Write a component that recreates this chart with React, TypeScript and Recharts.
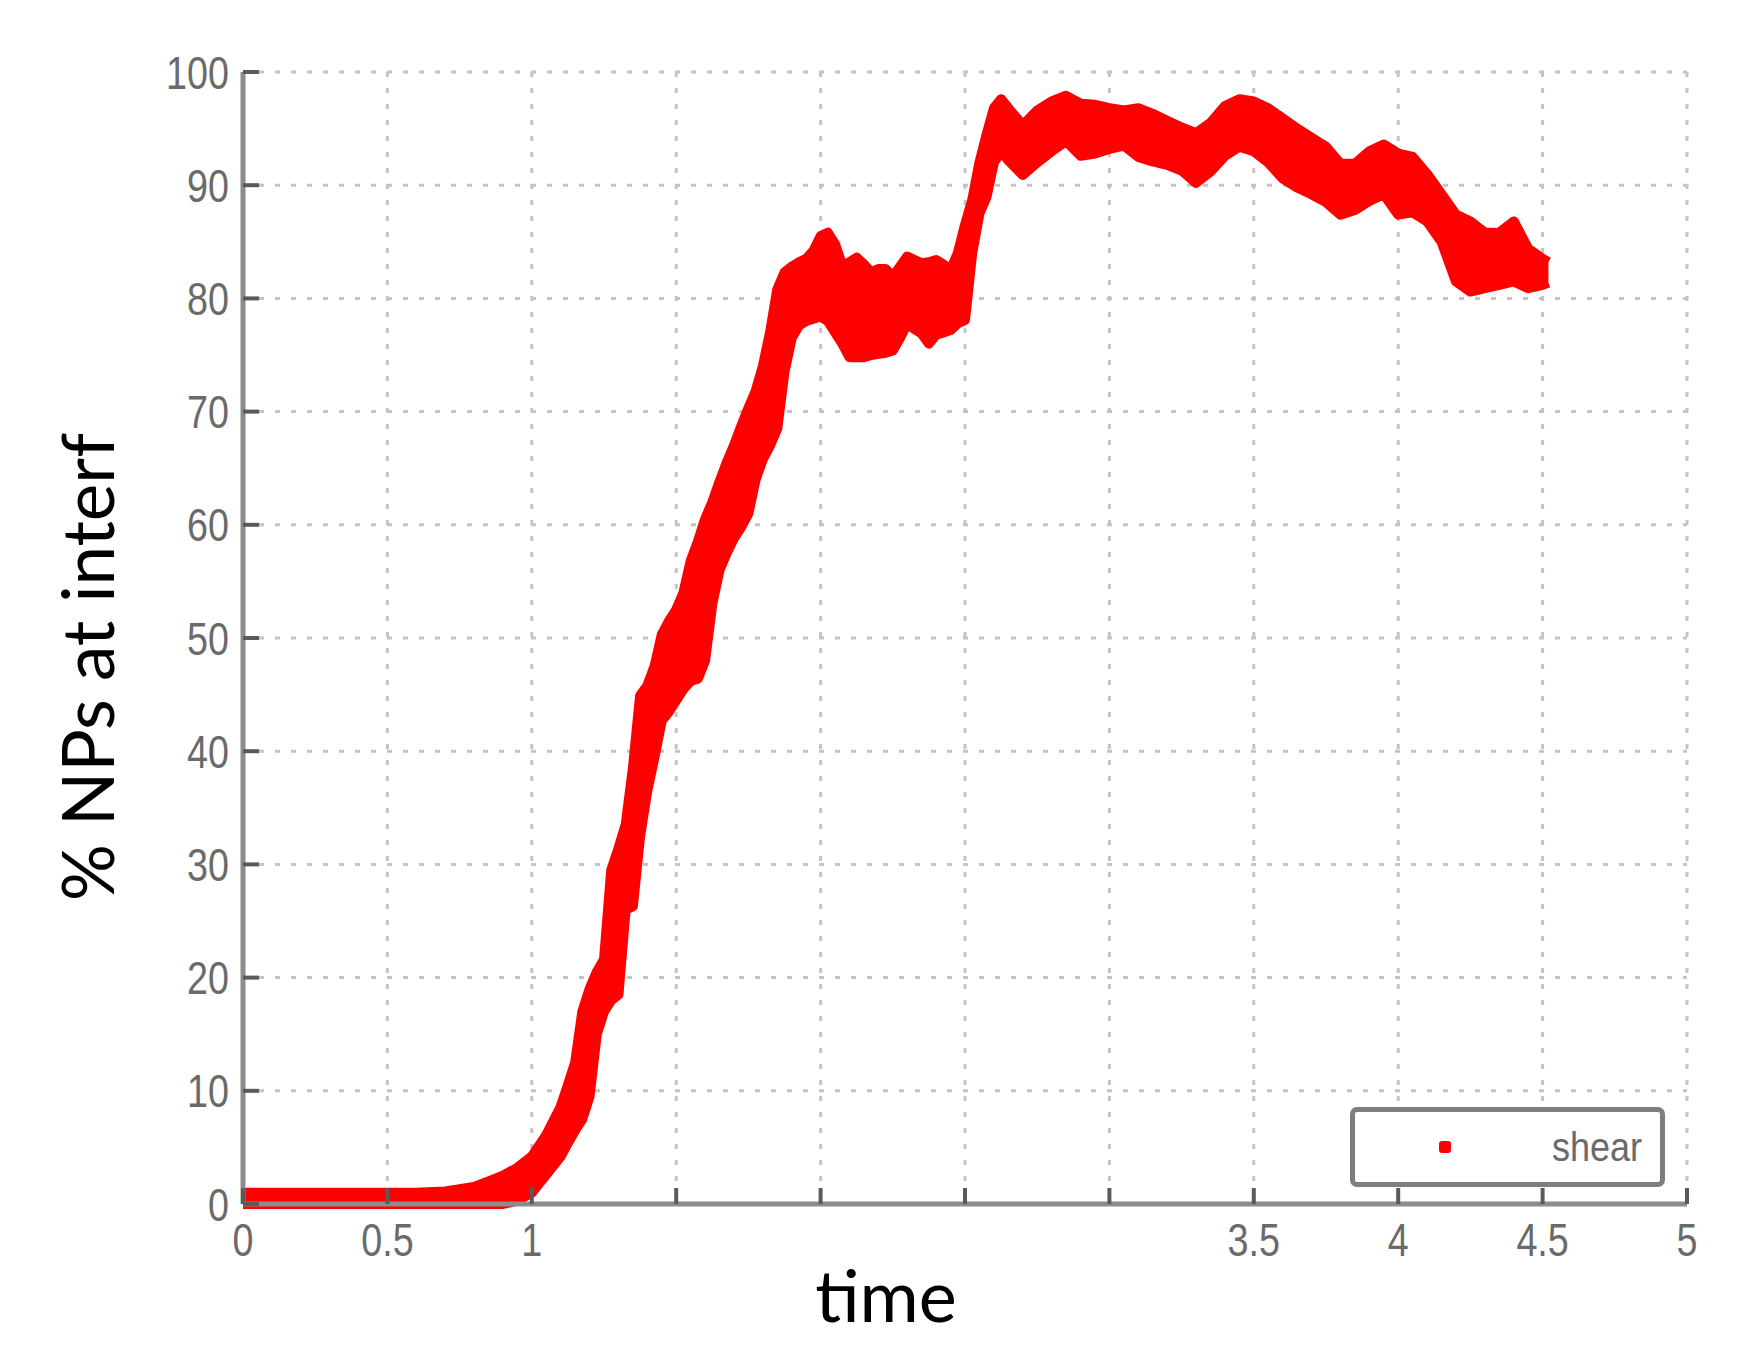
import React from 'react';
import { Area, AreaChart, CartesianGrid, Label, Legend, XAxis, YAxis } from 'recharts';

// time samples and the lower / upper edge of the red scatter band (% NPs)
const TIME = [
  0, 0.1, 0.2, 0.3, 0.4, 0.5, 0.6, 0.7, 0.75, 0.8, 0.85, 0.9, 0.95, 1.0, 1.05, 1.1, 1.125, 1.15,
  1.175, 1.2, 1.225, 1.25, 1.275, 1.3, 1.325, 1.35, 1.375, 1.4, 1.425, 1.45, 1.475, 1.5, 1.525,
  1.55, 1.575, 1.6, 1.625, 1.65, 1.675, 1.7, 1.725, 1.75, 1.775, 1.8, 1.825, 1.85, 1.875, 1.9,
  1.925, 1.95, 1.975, 2.0, 2.025, 2.05, 2.075, 2.1, 2.125, 2.15, 2.175, 2.2, 2.225, 2.25, 2.275,
  2.3, 2.325, 2.35, 2.375, 2.4, 2.425, 2.45, 2.475, 2.5, 2.525, 2.55, 2.575, 2.6, 2.625, 2.65,
  2.7, 2.75, 2.8, 2.85, 2.9, 2.95, 3.0, 3.05, 3.1, 3.15, 3.2, 3.25, 3.3, 3.35, 3.4, 3.45, 3.5,
  3.55, 3.6, 3.65, 3.7, 3.75, 3.8, 3.85, 3.9, 3.95, 4.0, 4.05, 4.1, 4.15, 4.2, 4.25, 4.3, 4.35,
  4.4, 4.45, 4.5, 4.52,
];

const LOWER = [
  0, 0, 0, 0, 0, 0, 0, 0, 0, 0, 0, 0, 0.3, 1.0, 2.6, 4.2, 5.4, 6.5,
  7.5, 9.5, 15, 17, 18, 18.5, 26, 26.3, 32.5, 36.5, 39.5, 42.7, 43.5, 44.5, 45.5,
  46.2, 46.4, 48, 53, 56, 57.5, 58.8, 59.8, 61, 64, 65.8, 67, 68.5, 73.5, 76.5,
  77.6, 78, 78.2, 78.4, 78, 77, 76, 74.8, 74.8, 74.8, 75, 75.1, 75.2, 75.4, 76.5,
  77.8, 77.3, 76.9, 76, 76.8, 77, 77.2, 77.8, 78.1, 84, 87.5, 89, 92, 93, 92.2,
  90.9, 92, 93, 93.9, 92.6, 92.8, 93.2, 93.5, 92.5, 92.1, 91.8, 91.3, 90.2, 91.2, 92.6, 93.4, 93,
  92, 90.6, 89.8, 89.2, 88.5, 87.4, 87.8, 88.6, 89.2, 87.4, 87.6, 86.8, 85, 81.5, 80.6, 80.9, 81.2,
  81.5, 80.9, 81.2, 81.4,
];

const UPPER = [
  1.0, 1.0, 1.0, 1.0, 1.0, 1.0, 1.0, 1.1, 1.3, 1.5, 2.0, 2.5, 3.2, 4.2, 6.1, 8.6, 10.5, 12.5,
  17, 19, 20.5, 21.6, 29.5, 31.4, 33.5, 38.5, 44.9, 45.8, 47.5, 50.3, 51.5, 52.5, 54,
  56.8, 58.5, 60.5, 62, 63.8, 65.5, 67, 68.7, 70.3, 71.8, 74, 77, 80.8, 82.3, 82.8,
  83.2, 83.5, 84.2, 85.5, 85.8, 84.8, 82.9, 83.2, 83.6, 83, 82.3, 82.6, 82.6, 81.9, 82.8,
  83.7, 83.4, 83.1, 83.2, 83.4, 83, 82.5, 84, 86.5, 88.7, 92, 94.5, 96.8, 97.6, 96.8,
  95.3, 96.6, 97.4, 97.9, 97.2, 97.1, 96.8, 96.6, 96.8, 96.3, 95.7, 95.1, 94.6, 95.5, 97, 97.6, 97.4,
  96.8, 95.9, 95, 94.2, 93.4, 91.9, 91.9, 93, 93.6, 92.8, 92.5, 91, 89.2, 87.4, 86.8, 85.8, 85.8,
  86.8, 84.4, 83.5, 83.2,
];

const X_TICKS = [0, 0.5, 1, 1.5, 2, 2.5, 3, 3.5, 4, 4.5, 5];
const X_TICK_LABELS = ['0', '0.5', '1', '', '', '', '', '3.5', '4', '4.5', '5'];
const Y_TICKS = [0, 10, 20, 30, 40, 50, 60, 70, 80, 90, 100];

const SERIES_NAME = 'shear';
const X_TITLE = 'time';
const Y_TITLE = '% NPs at interf';

const chartData = TIME.map((t, i) => ({ t, band: [LOWER[i], UPPER[i]] }));

// layout
const WIDTH = 1755;
const HEIGHT = 1366;
const MARGIN = { top: 72, right: 68, bottom: 0, left: 0 };
const Y_AXIS_WIDTH = 243;
const X_AXIS_HEIGHT = 162;
const PLOT_LEFT = MARGIN.left + Y_AXIS_WIDTH;
const PLOT_RIGHT = WIDTH - MARGIN.right;
const PLOT_TOP = MARGIN.top;
const PLOT_BOTTOM = HEIGHT - MARGIN.bottom - X_AXIS_HEIGHT;

const AXIS_COLOR = '#8c8c8c';
const TICK_COLOR = '#5a5a5a';
const TICK_LEN = 16;
const LABEL_COLOR = '#6a6a6a';
const LABEL_FONT = '"Liberation Sans", Arial, sans-serif';
const LABEL_SIZE = 46;
const titleFont = '"Lato", "Open Sans", sans-serif';

// tick renderers: marks point into the plot, labels are slightly condensed like the original
const BottomTick = ({ x, payload }: any) => {
  const text = X_TICK_LABELS[X_TICKS.indexOf(payload.value)] ?? '';
  return (
    <g>
      <line x1={x} y1={PLOT_BOTTOM} x2={x} y2={PLOT_BOTTOM - TICK_LEN} stroke={TICK_COLOR} strokeWidth={4} />
      {text && (
        <text
          transform={`translate(${x},${PLOT_BOTTOM + 52}) scale(0.82,1)`}
          textAnchor="middle"
          fontFamily={LABEL_FONT}
          fontSize={LABEL_SIZE}
          fill={LABEL_COLOR}
        >
          {text}
        </text>
      )}
    </g>
  );
};

const LeftTick = ({ y, payload }: any) => (
  <g>
    <line x1={PLOT_LEFT} y1={y} x2={PLOT_LEFT + TICK_LEN} y2={y} stroke={TICK_COLOR} strokeWidth={4} />
    <text
      transform={`translate(${PLOT_LEFT - 14},${y + 16.5}) scale(0.82,1)`}
      textAnchor="end"
      fontFamily={LABEL_FONT}
      fontSize={LABEL_SIZE}
      fill={LABEL_COLOR}
    >
      {payload.value}
    </text>
  </g>
);

const TopTick = ({ x }: any) => (
  <line x1={x} y1={PLOT_TOP} x2={x} y2={PLOT_TOP + TICK_LEN} stroke={TICK_COLOR} strokeWidth={4} />
);

const RightTick = ({ y }: any) => (
  <line x1={PLOT_RIGHT} y1={y} x2={PLOT_RIGHT - TICK_LEN} y2={y} stroke={TICK_COLOR} strokeWidth={4} />
);

const renderLegend = () => (
  <div
    style={{
      boxSizing: 'border-box',
      width: 315,
      height: 80,
      border: '5px solid #7e7e7e',
      borderRadius: 7,
      background: '#fff',
      display: 'flex',
      alignItems: 'center',
      justifyContent: 'space-between',
      padding: '0 18px 0 84px',
    }}
  >
    <span
      style={{ display: 'inline-block', width: 12, height: 12, borderRadius: 3, background: '#ff0000' }}
    />
    <span
      style={{
        fontFamily: LABEL_FONT,
        fontSize: 40,
        color: LABEL_COLOR,
        lineHeight: 1,
        display: 'inline-block',
        transform: 'scaleX(0.9)',
        transformOrigin: 'right center',
      }}
    >
      {SERIES_NAME}
    </span>
  </div>
);

const App: React.FC = () => (
  <div style={{ position: 'absolute', left: 0, top: 0, width: WIDTH, height: HEIGHT, background: '#fff' }}>
    <AreaChart width={WIDTH} height={HEIGHT} data={chartData} margin={MARGIN}>
      <CartesianGrid
        stroke="#c4c4c4"
        strokeWidth={3}
        strokeDasharray="5 11"
        horizontalValues={Y_TICKS}
        verticalValues={X_TICKS}
      />
      <XAxis
        dataKey="t"
        type="number"
        domain={[0, 5]}
        ticks={X_TICKS}
        interval={0}
        height={X_AXIS_HEIGHT}
        tickLine={false}
        tick={<BottomTick />}
        axisLine={{ stroke: AXIS_COLOR, strokeWidth: 5 }}
      >
        <Label
          content={({ viewBox }: any) => (
            <text
              x={viewBox.x + viewBox.width / 2 - 79}
              y={viewBox.y + 118}
              textAnchor="middle"
              fontFamily={titleFont}
              fontSize={72}
              fill="#000"
            >
              {X_TITLE}
            </text>
          )}
        />
      </XAxis>
      <XAxis
        xAxisId="top"
        orientation="top"
        type="number"
        domain={[0, 5]}
        ticks={X_TICKS}
        interval={0}
        height={0}
        tickLine={false}
        tick={<TopTick />}
        axisLine={{ stroke: AXIS_COLOR, strokeWidth: 5 }}
      />
      <YAxis
        type="number"
        domain={[0, 100]}
        ticks={Y_TICKS}
        interval={0}
        width={Y_AXIS_WIDTH}
        tickLine={false}
        tick={<LeftTick />}
        axisLine={{ stroke: AXIS_COLOR, strokeWidth: 5 }}
      >
        <Label
          content={({ viewBox }: any) => {
            const cx = viewBox.x + 86;
            const cy = viewBox.y + viewBox.height / 2 + 29;
            return (
              <text
                x={cx}
                y={cy}
                transform={`rotate(-90 ${cx} ${cy})`}
                textAnchor="middle"
                dominantBaseline="central"
                fontFamily={titleFont}
                fontSize={71}
                fill="#000"
              >
                {Y_TITLE}
              </text>
            );
          }}
        />
      </YAxis>
      <YAxis
        yAxisId="right"
        orientation="right"
        type="number"
        domain={[0, 100]}
        ticks={Y_TICKS}
        interval={0}
        width={0}
        tickLine={false}
        tick={<RightTick />}
        axisLine={{ stroke: AXIS_COLOR, strokeWidth: 5 }}
      />
      <Area
        name={SERIES_NAME}
        dataKey="band"
        type="linear"
        stroke="#ff0000"
        strokeWidth={10}
        strokeLinejoin="round"
        fill="#ff0000"
        fillOpacity={1}
        dot={false}
        activeDot={false}
        isAnimationActive={false}
      />
      <Legend
        layout="horizontal"
        align="center"
        verticalAlign="middle"
        content={renderLegend}
        wrapperStyle={{ left: 1350, top: 1107, width: 315, height: 80 }}
      />
    </AreaChart>
  </div>
);

export default App;
